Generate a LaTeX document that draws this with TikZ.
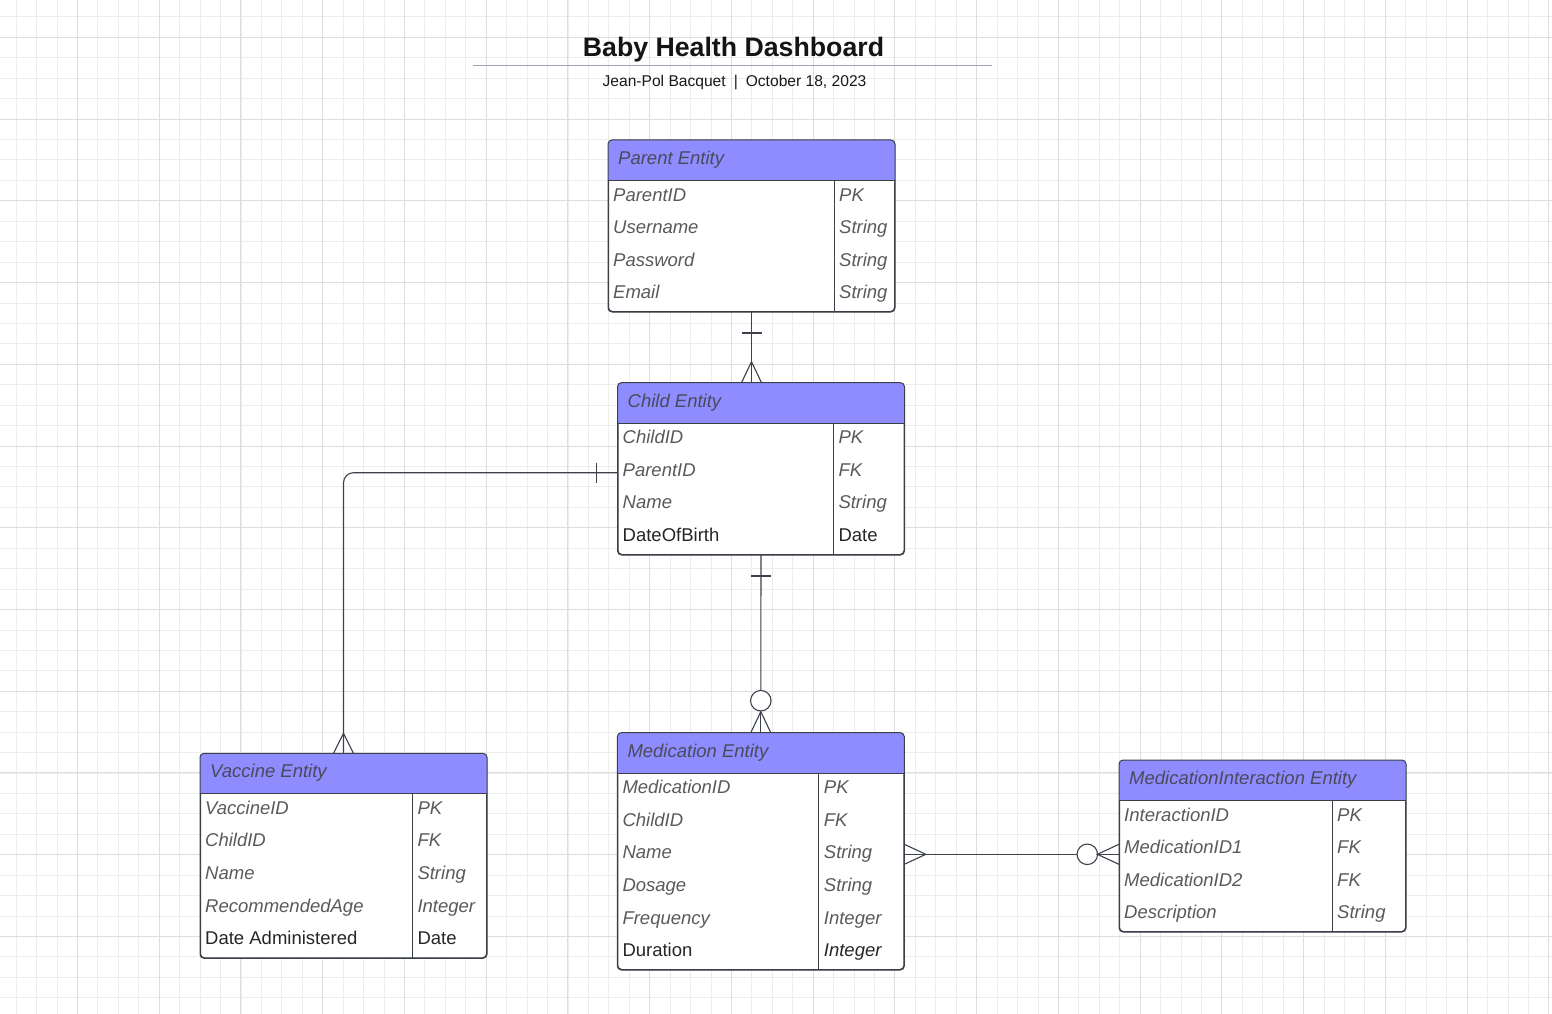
\documentclass[tikz,border=0pt]{standalone}
\usepackage{fontspec}
\setmainfont{Liberation Sans}
\definecolor{gminorc}{HTML}{EDEDED}
\definecolor{gmajorc}{HTML}{DEDEDE}
\definecolor{hdrc}{HTML}{8E8CFE}
\definecolor{borderc}{HTML}{3A3F48}
\definecolor{connc}{HTML}{3C414C}
\definecolor{attrc}{HTML}{5A5A5A}
\definecolor{darkc}{HTML}{262626}
\definecolor{htextc}{HTML}{4A4A5C}
\definecolor{rulec}{HTML}{9EA3B0}
\tikzset{
  gminor/.style={draw=gminorc, line width=0.9pt},
  gmajor/.style={draw=gmajorc, line width=1pt},
  ebox/.style={draw=borderc, line width=1pt, fill=white, rounded corners=4pt, inner sep=0pt, minimum width=286pt},
  eline/.style={draw=borderc, line width=1pt},
  hdrfill/.style={fill=hdrc},
  htext/.style={anchor=base west, inner sep=0pt, text=htextc, font=\itshape\fontsize{18.5}{22}\selectfont},
  attr/.style={anchor=base west, inner sep=0pt, text=attrc, font=\itshape\fontsize{18.5}{22}\selectfont},
  attrdark/.style={anchor=base west, inner sep=0pt, text=darkc, font=\fontsize{18.5}{22}\selectfont},
  typedark/.style={anchor=base west, inner sep=0pt, text=darkc, font=\itshape\fontsize{18.5}{22}\selectfont},
  conn/.style={draw=connc, line width=1.1pt},
  zerocirc/.style={circle, draw=connc, line width=1.1pt, fill=white, minimum size=20.5pt, inner sep=0pt}
}
\newcommand\erentity[6]{%
  \node[ebox, minimum height=#4pt, anchor=north west] (#1) at (#2,-#3) {};
  \fill[hdrfill] ([yshift=-40.5pt]#1.north west) -- ([yshift=-4pt]#1.north west)
     arc[start angle=180,end angle=90,radius=4] -- ([xshift=-4pt]#1.north east)
     arc[start angle=90,end angle=0,radius=4] -- ([yshift=-40.5pt]#1.north east) -- cycle;
  \draw[eline] ([yshift=-40.5pt]#1.north west) -- ([yshift=-40.5pt]#1.north east);
  \draw[eline] ([xshift=#5pt,yshift=-40.5pt]#1.north west) -- ([xshift=#5pt]#1.south west);
  \draw[eline, rounded corners=4pt] (#1.north west) rectangle (#1.south east);
  \node[htext] (#1-t) at ([xshift=10pt,yshift=-24.5pt]#1.north west) {#6};
}
\newcommand\rowpair[7]{%
  \node[#4] (#1-a#2) at ([xshift=5pt,yshift={-61-32.6*#2}]#1.north west) {#5};
  \node[#6] (#1-b#2) at ([xshift={#3+5},yshift={-61-32.6*#2}]#1.north west) {#7};
}
\begin{document}
\begin{tikzpicture}[x=1pt,y=1pt]
\useasboundingbox (0,0) rectangle (1552,-1014);
\fill[white] (0,0) rectangle (1552,-1014);
% grid
\foreach \i in {0,...,75} \draw[gminor] ({16.2+20.435*\i},0) -- ({16.2+20.435*\i},-1014);
\foreach \j in {0,...,49} \draw[gminor] (0,{-16.9-20.435*\j}) -- (1552,{-16.9-20.435*\j});
\foreach \i in {0,...,18} \draw[gmajor] ({77.5+81.74*\i},0) -- ({77.5+81.74*\i},-1014);
\foreach \j in {0,...,12} \draw[gmajor] (0,{-37.3-81.74*\j}) -- (1552,{-37.3-81.74*\j});

% title
\node[anchor=base, inner sep=0pt, text=black!92, font=\bfseries\fontsize{26.7}{30}\selectfont] (title) at (733.5,-56.5) {Baby Health Dashboard};
\coordinate (rl) at (473,-65.7);
\coordinate (rr) at (992,-65.7);
\draw[draw=rulec, line width=1.5pt] (rl) -- (rr);
\node[anchor=base, inner sep=0pt, text=black!90, font=\fontsize{15.6}{18}\selectfont] (subtitle) at (734.5,-87) {Jean-Pol Bacquet\hspace{8pt}|\hspace{8pt}October 18, 2023};

% entities
\erentity{parent}{608}{140}{171}{226}{Parent Entity}
\rowpair{parent}{0}{226}{attr}{ParentID}{attr}{PK}
\rowpair{parent}{1}{226}{attr}{Username}{attr}{String}
\rowpair{parent}{2}{226}{attr}{Password}{attr}{String}
\rowpair{parent}{3}{226}{attr}{Email}{attr}{String}

\erentity{child}{617.5}{382.7}{171.3}{215.8}{Child Entity}
\rowpair{child}{0}{215.8}{attr}{ChildID}{attr}{PK}
\rowpair{child}{1}{215.8}{attr}{ParentID}{attr}{FK}
\rowpair{child}{2}{215.8}{attr}{Name}{attr}{String}
\rowpair{child}{3}{215.8}{attrdark}{DateOfBirth}{attrdark}{Date}

\erentity{vaccine}{200}{753.3}{204}{212.3}{Vaccine Entity}
\rowpair{vaccine}{0}{212.3}{attr}{VaccineID}{attr}{PK}
\rowpair{vaccine}{1}{212.3}{attr}{ChildID}{attr}{FK}
\rowpair{vaccine}{2}{212.3}{attr}{Name}{attr}{String}
\rowpair{vaccine}{3}{212.3}{attr}{RecommendedAge}{attr}{Integer}
\rowpair{vaccine}{4}{212.3}{attrdark}{Date Administered}{attrdark}{Date}

\erentity{medication}{617.3}{732.7}{236.3}{201.4}{Medication Entity}
\rowpair{medication}{0}{201.4}{attr}{MedicationID}{attr}{PK}
\rowpair{medication}{1}{201.4}{attr}{ChildID}{attr}{FK}
\rowpair{medication}{2}{201.4}{attr}{Name}{attr}{String}
\rowpair{medication}{3}{201.4}{attr}{Dosage}{attr}{String}
\rowpair{medication}{4}{201.4}{attr}{Frequency}{attr}{Integer}
\rowpair{medication}{5}{201.4}{attrdark}{Duration}{typedark}{Integer}

\erentity{interaction}{1119}{760}{171}{213}{MedicationInteraction Entity}
\rowpair{interaction}{0}{213}{attr}{InteractionID}{attr}{PK}
\rowpair{interaction}{1}{213}{attr}{MedicationID1}{attr}{FK}
\rowpair{interaction}{2}{213}{attr}{MedicationID2}{attr}{FK}
\rowpair{interaction}{3}{213}{attr}{Description}{attr}{String}

% Parent -> Child (one to many)
\coordinate (pc-end) at (parent.south |- child.north);
\draw[conn] (parent.south) -- (pc-end);
\draw[conn] ([shift={(-10,-21)}]parent.south) -- ++(20,0);
\draw[conn] ([xshift=-10pt]pc-end) -- ([yshift=21pt]pc-end) -- ([xshift=10pt]pc-end);

% Child -> Vaccine (one to many)
\coordinate (cv-s) at ([yshift=-90pt]child.north west);
\draw[conn, rounded corners=10pt] (cv-s) -| (vaccine.north);
\draw[conn] ([shift={(-21,10)}]cv-s) -- ++(0,-20);
\draw[conn] ([xshift=-10pt]vaccine.north) -- ([yshift=20pt]vaccine.north) -- ([xshift=10pt]vaccine.north);

% Child -> Medication (one to zero-or-many)
\node[zerocirc] (cm-o) at ([yshift=32pt]medication.north) {};
\draw[conn] (child.south) -- (cm-o.north);
\draw[conn] (cm-o.south) -- (medication.north);
\draw[conn] ([shift={(-10,-21)}]child.south) -- ++(20,0);
\draw[conn] ([xshift=-10pt]medication.north) -- ([yshift=21pt]medication.north) -- ([xshift=10pt]medication.north);

% Medication -> Interaction (many to zero-or-many)
\coordinate (mi-s) at ([yshift=-121.6pt]medication.north east);
\coordinate (mi-e) at (interaction.west |- mi-s);
\node[zerocirc] (mi-o) at ([xshift=-31.7pt]mi-e) {};
\draw[conn] (mi-s) -- (mi-o.west);
\draw[conn] (mi-o.east) -- (mi-e);
\draw[conn] ([yshift=10pt]mi-s) -- ([xshift=21.5pt]mi-s) -- ([yshift=-10pt]mi-s);
\draw[conn] ([yshift=10pt]mi-e) -- ([xshift=-21.7pt]mi-e) -- ([yshift=-10pt]mi-e);
\end{tikzpicture}
\end{document}
